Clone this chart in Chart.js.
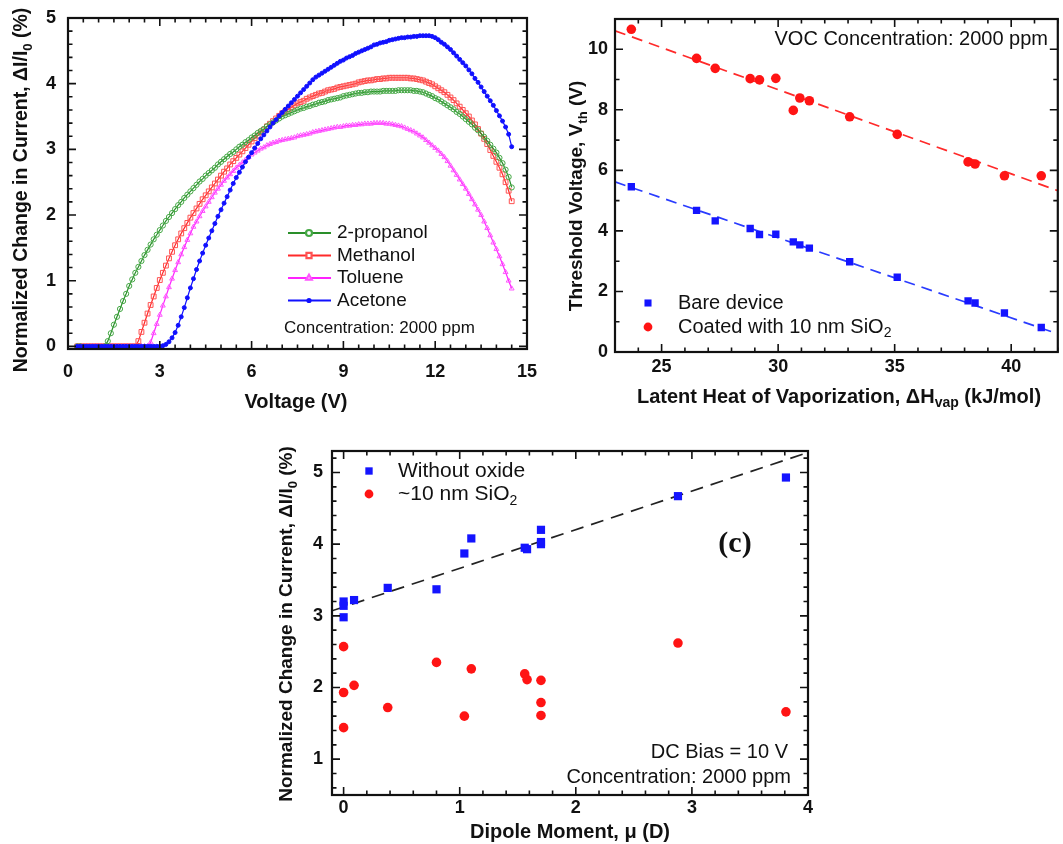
<!DOCTYPE html>
<html>
<head>
<meta charset="utf-8">
<script src="https://cdn.jsdelivr.net/npm/chart.js@4.4.1/dist/chart.umd.min.js"></script>
<style>
  html, body { margin: 0; padding: 0; background: #fff; }
  #page { position: relative; width: 1063px; height: 844px; overflow: hidden; }
  canvas { position: absolute; }
  #chart-iv { left: 0; top: 0; }
  #chart-vth { left: 540px; top: 0; }
  #chart-dipole { left: 270px; top: 425px; }
</style>
</head>
<body>
<div id="page">
  <canvas id="chart-iv" width="540" height="415"></canvas>
  <canvas id="chart-vth" width="523" height="420"></canvas>
  <canvas id="chart-dipole" width="545" height="419"></canvas>
</div>
<script>
/* ---------- (a) response vs. bias voltage ---------- */
const voltage = [
  0.3, 0.4, 0.5, 0.6, 0.7, 0.8, 0.9, 1.0, 1.1, 1.2,
  1.3, 1.4, 1.5, 1.6, 1.7, 1.8, 1.9, 2.0, 2.1, 2.2,
  2.3, 2.4, 2.5, 2.6, 2.7, 2.8, 2.9, 3.0, 3.1, 3.2,
  3.3, 3.4, 3.5, 3.6, 3.7, 3.8, 3.9, 4.0, 4.1, 4.2,
  4.3, 4.4, 4.5, 4.6, 4.7, 4.8, 4.9, 5.0, 5.1, 5.2,
  5.3, 5.4, 5.5, 5.6, 5.7, 5.8, 5.9, 6.0, 6.1, 6.2,
  6.3, 6.4, 6.5, 6.6, 6.7, 6.8, 6.9, 7.0, 7.1, 7.2,
  7.3, 7.4, 7.5, 7.6, 7.7, 7.8, 7.9, 8.0, 8.1, 8.2,
  8.3, 8.4, 8.5, 8.6, 8.7, 8.8, 8.9, 9.0, 9.1, 9.2,
  9.3, 9.4, 9.5, 9.6, 9.7, 9.8, 9.9, 10.0, 10.1, 10.2,
  10.3, 10.4, 10.5, 10.6, 10.7, 10.8, 10.9, 11.0, 11.1, 11.2,
  11.3, 11.4, 11.5, 11.6, 11.7, 11.8, 11.9, 12.0, 12.1, 12.2,
  12.3, 12.4, 12.5, 12.6, 12.7, 12.8, 12.9, 13.0, 13.1, 13.2,
  13.3, 13.4, 13.5, 13.6, 13.7, 13.8, 13.9, 14.0, 14.1, 14.2,
  14.3, 14.4, 14.5,
];
const propanol = [
  0, 0, -0.01, -0.01, -0.02, -0.02, -0.03, -0.02, -0.01, 0.0,
  0.08, 0.2, 0.33, 0.45, 0.57, 0.69, 0.8, 0.92, 1.02, 1.12,
  1.21, 1.3, 1.39, 1.47, 1.55, 1.63, 1.7, 1.77, 1.84, 1.91,
  1.97, 2.03, 2.09, 2.15, 2.2, 2.26, 2.31, 2.36, 2.41, 2.46,
  2.51, 2.55, 2.6, 2.64, 2.68, 2.72, 2.77, 2.81, 2.85, 2.89,
  2.93, 2.96, 3.0, 3.04, 3.07, 3.11, 3.14, 3.18, 3.21, 3.25,
  3.28, 3.31, 3.35, 3.38, 3.41, 3.44, 3.47, 3.5, 3.52, 3.54,
  3.56, 3.58, 3.6, 3.62, 3.63, 3.65, 3.66, 3.68, 3.69, 3.71,
  3.72, 3.73, 3.75, 3.76, 3.77, 3.78, 3.79, 3.81, 3.82, 3.83,
  3.84, 3.85, 3.86, 3.86, 3.87, 3.87, 3.88, 3.88, 3.88, 3.88,
  3.89, 3.89, 3.89, 3.89, 3.89, 3.9, 3.9, 3.9, 3.9, 3.9,
  3.89, 3.89, 3.88, 3.87, 3.85, 3.83, 3.81, 3.78, 3.76, 3.73,
  3.7, 3.67, 3.64, 3.61, 3.57, 3.54, 3.5, 3.46, 3.42, 3.38,
  3.33, 3.29, 3.24, 3.19, 3.13, 3.07, 3.01, 2.95, 2.87, 2.79,
  2.69, 2.58, 2.42,
];
const methanol = [
  0, 0, 0, 0, 0, 0, 0, 0, 0, 0,
  0, 0, 0, 0, 0, 0, 0, 0, 0, 0,
  0.08, 0.22, 0.36, 0.5, 0.63, 0.76, 0.89, 1.01, 1.12, 1.23,
  1.34, 1.44, 1.54, 1.63, 1.72, 1.8, 1.88, 1.96, 2.03, 2.1,
  2.17, 2.24, 2.3, 2.36, 2.42, 2.48, 2.54, 2.6, 2.66, 2.71,
  2.77, 2.82, 2.87, 2.92, 2.97, 3.02, 3.07, 3.12, 3.17, 3.21,
  3.26, 3.3, 3.35, 3.39, 3.43, 3.47, 3.51, 3.55, 3.58, 3.61,
  3.64, 3.67, 3.7, 3.72, 3.74, 3.77, 3.79, 3.81, 3.83, 3.85,
  3.86, 3.88, 3.9, 3.91, 3.92, 3.94, 3.95, 3.96, 3.97, 3.98,
  3.99, 4.0, 4.02, 4.03, 4.04, 4.05, 4.05, 4.06, 4.07, 4.07,
  4.08, 4.08, 4.09, 4.09, 4.09, 4.09, 4.09, 4.09, 4.09, 4.08,
  4.08, 4.07, 4.06, 4.05, 4.03, 4.01, 3.99, 3.96, 3.93, 3.9,
  3.87, 3.83, 3.79, 3.75, 3.7, 3.65, 3.6, 3.55, 3.5, 3.44,
  3.38, 3.31, 3.24, 3.16, 3.08, 2.99, 2.9, 2.81, 2.72, 2.62,
  2.5, 2.37, 2.21,
];
const toluene = [
  0, 0, 0, 0, 0, 0, 0, 0, 0, 0,
  0, 0, 0, 0, 0, 0, 0, 0, 0, 0,
  0, 0, 0, 0, 0.06, 0.2, 0.34, 0.48, 0.62, 0.76,
  0.9, 1.03, 1.16, 1.28, 1.4, 1.51, 1.62, 1.72, 1.82, 1.9,
  1.98, 2.06, 2.13, 2.2, 2.27, 2.34, 2.4, 2.46, 2.52, 2.57,
  2.62, 2.67, 2.72, 2.76, 2.8, 2.84, 2.88, 2.92, 2.95, 2.98,
  3.01, 3.03, 3.06, 3.08, 3.1, 3.11, 3.13, 3.14, 3.15, 3.16,
  3.17, 3.18, 3.2, 3.21, 3.22, 3.23, 3.24, 3.26, 3.27, 3.28,
  3.29, 3.3, 3.31, 3.32, 3.33, 3.34, 3.34, 3.35, 3.36, 3.36,
  3.37, 3.37, 3.38, 3.38, 3.39, 3.39, 3.39, 3.4, 3.4, 3.4,
  3.4, 3.39, 3.39, 3.38, 3.37, 3.36, 3.35, 3.33, 3.31, 3.29,
  3.27, 3.24, 3.21, 3.18, 3.14, 3.1, 3.06, 3.02, 2.98, 2.93,
  2.88, 2.82, 2.75, 2.68, 2.61, 2.54, 2.47, 2.4, 2.32, 2.24,
  2.16, 2.08, 2.0, 1.9, 1.8, 1.69, 1.58, 1.48, 1.37, 1.25,
  1.13, 1.0, 0.88,
];
const acetone = [
  0, 0, 0, 0, 0, 0, 0, 0, 0, 0,
  0, 0, 0, 0, 0, 0, 0, 0, 0, 0,
  0, 0, 0, 0, 0, 0, 0, 0, 0.01, 0.03,
  0.07, 0.13, 0.21, 0.32, 0.45, 0.59, 0.74, 0.89, 1.03, 1.17,
  1.3, 1.42, 1.54, 1.65, 1.76, 1.87, 1.98, 2.08, 2.18, 2.28,
  2.38, 2.48, 2.57, 2.65, 2.73, 2.81, 2.88, 2.95, 3.02, 3.09,
  3.16, 3.22, 3.28, 3.34, 3.4, 3.45, 3.51, 3.56, 3.61, 3.66,
  3.71, 3.76, 3.81, 3.86, 3.91, 3.96, 4.01, 4.06, 4.1, 4.13,
  4.16, 4.19, 4.22, 4.25, 4.28, 4.31, 4.34, 4.36, 4.39, 4.41,
  4.43, 4.46, 4.48, 4.5, 4.52, 4.54, 4.56, 4.59, 4.6, 4.62,
  4.63, 4.64, 4.66, 4.67, 4.68, 4.69, 4.7, 4.7, 4.71, 4.71,
  4.72, 4.72, 4.73, 4.73, 4.73, 4.73, 4.72, 4.7, 4.67, 4.63,
  4.6, 4.56, 4.52, 4.47, 4.42, 4.37, 4.32, 4.27, 4.21, 4.15,
  4.08, 4.02, 3.95, 3.88, 3.81, 3.74, 3.67, 3.59, 3.51, 3.43,
  3.34, 3.23, 3.04,
];
const voltTicks = [0, 3, 6, 9, 12, 15];
const respTicksA = [0, 1, 2, 3, 4, 5];

/* ---------- (b) threshold voltage vs. latent heat ---------- */
const latentHeat = [23.7, 26.5, 27.3, 28.8, 29.2, 29.9, 30.65, 30.93, 31.34, 33.07, 35.11, 38.15, 38.45, 39.71, 41.29];
const vthBare = [5.46, 4.68, 4.33, 4.08, 3.88, 3.89, 3.64, 3.54, 3.43, 2.98, 2.47, 1.69, 1.62, 1.29, 0.81];
const vthCoated = [10.66, 9.7, 9.37, 9.03, 8.99, 9.04, 7.98, 8.39, 8.3, 7.77, 7.19, 6.28, 6.21, 5.82, 5.82];
const fitHeat = [23, 42];
const fitVthBare = [5.62, 0.6];
const fitVthCoated = [10.61, 5.33];
const heatTicks = [25, 30, 35, 40];
const vthTicks = [0, 2, 4, 6, 8, 10];

/* ---------- (c) response vs. dipole moment ---------- */
const dipole = [0, 0, 0, 0.09, 0.38, 0.8, 1.04, 1.1, 1.56, 1.58, 1.7, 1.7, 1.7, 2.88, 3.81];
const respBare = [2.98, 3.2, 3.14, 3.22, 3.39, 3.37, 3.87, 4.08, 3.95, 3.93, 4.2, 4.03, 4.0, 4.67, 4.93];
const respOxide = [2.57, 1.93, 1.44, 2.03, 1.72, 2.35, 1.6, 2.26, 2.19, 2.11, 2.1, 1.79, 1.61, 2.62, 1.66];
const fitDipole = [-0.1, 4.0];
const fitResp = [3.07, 5.28];
const dipoleTicks = [0, 1, 2, 3, 4];
const respTicksC = [1, 2, 3, 4, 5];

const FONT = '"Liberation Sans", Arial, sans-serif';
const SERIF = '"Liberation Serif", "Times New Roman", serif';
Chart.defaults.font.family = FONT;

const BLUE = '#1414ff';
const RED = '#ff1414';

const pts = (xs, ys) => xs.map((x, i) => ({ x, y: ys[i] }));

// text made of runs, some of them subscripts
function drawRich(ctx, parts, x, y, o) {
  const size = o.size;
  const weight = o.weight || 'normal';
  const family = o.family || FONT;
  const subSize = Math.round(size * 0.68);
  const fontOf = (s) => `${weight} ${s}px ${family}`;
  let total = 0;
  const widths = parts.map(([t, isSub]) => {
    ctx.font = fontOf(isSub ? subSize : size);
    const w = ctx.measureText(t).width;
    total += w;
    return w;
  });
  let cx = o.align === 'right' ? x - total : o.align === 'left' ? x : x - total / 2;
  ctx.fillStyle = o.color || '#111';
  ctx.textBaseline = 'middle';
  ctx.textAlign = 'left';
  parts.forEach(([t, isSub], i) => {
    ctx.font = fontOf(isSub ? subSize : size);
    ctx.fillText(t, cx, isSub ? y + size * 0.32 : y);
    cx += widths[i];
  });
}

// box frame with inward major/minor ticks on all four sides
const framePlugin = {
  id: 'frame',
  afterDatasetsDraw(chart, args, o) {
    const { ctx, chartArea: a, scales } = chart;
    const minor = (s, step) => {
      const out = [];
      const start = Math.ceil((s.min - 1e-9) / step) * step;
      for (let v = start; v <= s.max + 1e-9; v += step) out.push(v);
      return out;
    };
    const marks = (s, step) => [
      ...minor(s, step).map((v) => [v, o.minorLen]),
      ...s.ticks.map((t) => [t.value, o.majorLen]),
    ];
    ctx.save();
    ctx.strokeStyle = '#111';
    ctx.lineWidth = 1.6;
    ctx.beginPath();
    marks(scales.x, o.xMinor).forEach(([v, len]) => {
      const px = scales.x.getPixelForValue(v);
      ctx.moveTo(px, a.bottom); ctx.lineTo(px, a.bottom - len);
      ctx.moveTo(px, a.top); ctx.lineTo(px, a.top + len);
    });
    marks(scales.y, o.yMinor).forEach(([v, len]) => {
      const py = scales.y.getPixelForValue(v);
      ctx.moveTo(a.left, py); ctx.lineTo(a.left + len, py);
      ctx.moveTo(a.right, py); ctx.lineTo(a.right - len, py);
    });
    ctx.stroke();
    ctx.lineWidth = 2.2;
    ctx.strokeRect(a.left, a.top, a.right - a.left, a.bottom - a.top);
    ctx.restore();
  },
};

// axis titles and free text
const notesPlugin = {
  id: 'notes',
  afterDraw(chart, args, o) {
    const ctx = chart.ctx;
    (o.items || []).forEach((n) => {
      ctx.save();
      if (n.rotate) {
        ctx.translate(n.x, n.y);
        ctx.rotate(-Math.PI / 2);
        drawRich(ctx, n.parts, 0, 0, n);
      } else {
        drawRich(ctx, n.parts, n.x, n.y, n);
      }
      ctx.restore();
    });
  },
};

// in-plot legend; marker shape and size follow the dataset
const keyPlugin = {
  id: 'key',
  afterDraw(chart, args, o) {
    if (!o.items) return;
    const ctx = chart.ctx;
    o.items.forEach((it, i) => {
      const ds = chart.data.datasets[it.dataset];
      const y = o.y + i * o.gap;
      ctx.save();
      if (o.line) {
        ctx.strokeStyle = it.line;
        ctx.lineWidth = 2.2;
        ctx.beginPath();
        ctx.moveTo(o.line[0], y);
        ctx.lineTo(o.line[1], y);
        ctx.stroke();
      }
      ctx.strokeStyle = it.stroke;
      ctx.fillStyle = it.fill;
      Chart.helpers.drawPoint(ctx, {
        pointStyle: ds.pointStyle,
        radius: it.radius || ds.pointRadius,
        borderWidth: it.hollow ? 1 : 0,
        rotation: 0,
      }, o.markX, y);
      ctx.restore();
      drawRich(ctx, it.parts, o.textX, y, { size: o.size, align: 'left' });
    });
  },
};

// fixed axis box size, no extra room for edge labels
const fixBox = (w, h) => (s) => {
  if (w) s.width = w;
  if (h) s.height = h;
  s.paddingTop = s.paddingBottom = s.paddingLeft = s.paddingRight = 0;
};

function axis(min, max, ticks, pad, fit) {
  return {
    type: 'linear',
    min,
    max,
    grid: { display: false, drawTicks: false },
    border: { display: false },
    afterBuildTicks: (s) => { s.ticks = ticks.map((v) => ({ value: v })); },
    afterFit: fit,
    ticks: {
      color: '#111',
      padding: pad,
      callback: (v) => String(v),
      font: { family: FONT, size: 18, weight: 'bold' },
    },
  };
}

function options(padding, x, y, plugins) {
  return {
    responsive: false,
    animation: false,
    devicePixelRatio: 1,
    layout: { padding },
    plugins: Object.assign({ legend: { display: false }, tooltip: { enabled: false } }, plugins),
    scales: { x, y },
  };
}

const plugins = [framePlugin, notesPlugin, keyPlugin];
const HOLLOW = 'rgba(255,255,255,0)';

function curve(label, data, line, mark, style, radius, fill, order) {
  return {
    label,
    data: pts(voltage, data),
    showLine: true,
    borderColor: line,
    borderWidth: 1.2,
    pointStyle: style,
    pointRadius: radius,
    pointBorderColor: mark,
    pointBackgroundColor: fill,
    pointBorderWidth: 1,
    order,
  };
}

/* (a) */
new Chart(document.getElementById('chart-iv'), {
  type: 'scatter',
  data: {
    datasets: [
      curve('2-propanol', propanol, '#2a8f2a', '#45a845', 'circle', 2.6, HOLLOW, 1),
      curve('Methanol', methanol, '#ff2a2a', '#ff5252', 'rect', 3.4, HOLLOW, 1),
      curve('Toluene', toluene, '#ff22ff', '#ff55ff', 'triangle', 2.8, HOLLOW, 1),
      curve('Acetone', acetone, '#1010ff', '#1010ff', 'circle', 2.0, '#1010ff', 0),
    ],
  },
  options: options(
    { left: 0, top: 18, right: 13, bottom: 0 },
    axis(0, 15, voltTicks, 12, fixBox(0, 66)),
    axis(-0.04, 5, respTicksA, 12, fixBox(68, 0)),
    {
      frame: { xMinor: 0.5, yMinor: 0.2, majorLen: 8, minorLen: 4.5 },
      key: {
        markX: 309, line: [288, 331], textX: 337, y: 233, gap: 22.5, size: 19,
        items: [
          { dataset: 0, parts: [['2-propanol']], line: '#2a8f2a', stroke: '#45a845', fill: '#fff', hollow: true, radius: 3 },
          { dataset: 1, parts: [['Methanol']], line: '#ff2a2a', stroke: '#ff5252', fill: '#fff', hollow: true, radius: 3.6 },
          { dataset: 2, parts: [['Toluene']], line: '#ff22ff', stroke: '#ff55ff', fill: '#fff', hollow: true, radius: 3.2 },
          { dataset: 3, parts: [['Acetone']], line: '#1010ff', stroke: '#1010ff', fill: '#1010ff', radius: 2.6 },
        ],
      },
      notes: {
        items: [
          { parts: [['Concentration: 2000 ppm']], x: 284, y: 328, size: 17, align: 'left' },
          { parts: [['Voltage (V)']], x: 296, y: 402, size: 20, weight: 'bold' },
          {
            parts: [['Normalized Change in Current, \u0394I/I'], ['0', true], [' (%)']],
            x: 22, y: 190, size: 19.5, weight: 'bold', rotate: true,
          },
        ],
      },
    }
  ),
  plugins,
});

/* (b) */
new Chart(document.getElementById('chart-vth'), {
  type: 'scatter',
  data: {
    datasets: [
      {
        label: 'Bare device',
        data: pts(latentHeat, vthBare),
        pointStyle: 'rect', pointRadius: 5.2, pointBorderWidth: 0,
        borderColor: BLUE, pointBackgroundColor: BLUE,
        order: 0,
      },
      {
        label: 'Coated with 10 nm SiO2',
        data: pts(latentHeat, vthCoated),
        pointStyle: 'circle', pointRadius: 4.8, pointBorderWidth: 0,
        borderColor: RED, pointBackgroundColor: RED,
        order: 0,
      },
      {
        label: 'Bare fit',
        data: pts(fitHeat, fitVthBare),
        showLine: true, pointRadius: 0, borderColor: '#2a3cff', borderWidth: 1.7, borderDash: [11, 7],
        order: 2,
      },
      {
        label: 'Coated fit',
        data: pts(fitHeat, fitVthCoated),
        showLine: true, pointRadius: 0, borderColor: '#ff2a2a', borderWidth: 1.7, borderDash: [11, 7],
        order: 2,
      },
    ],
  },
  options: options(
    { left: 0, top: 19, right: 1, bottom: 0 },
    axis(23, 42, heatTicks, 4, fixBox(0, 68)),
    axis(0, 11, vthTicks, 7, fixBox(75, 0)),
    {
      frame: { xMinor: 1, yMinor: 1, majorLen: 8, minorLen: 4.5 },
      key: {
        markX: 108, textX: 138, y: 303, gap: 24, size: 20,
        items: [
          { dataset: 0, parts: [['Bare device']], stroke: BLUE, fill: BLUE, radius: 5 },
          { dataset: 1, parts: [['Coated with 10 nm SiO'], ['2', true]], stroke: RED, fill: RED, radius: 4.4 },
        ],
      },
      notes: {
        items: [
          { parts: [['VOC Concentration: 2000 ppm']], x: 508, y: 39, size: 20, align: 'right' },
          {
            parts: [['Latent Heat of Vaporization, \u0394H'], ['vap', true], [' (kJ/mol)']],
            x: 299, y: 397, size: 20, weight: 'bold',
          },
          {
            parts: [['Threshold Voltage, V'], ['th', true], [' (V)']],
            x: 37, y: 196, size: 19, weight: 'bold', rotate: true,
          },
        ],
      },
    }
  ),
  plugins,
});

/* (c) */
new Chart(document.getElementById('chart-dipole'), {
  type: 'scatter',
  data: {
    datasets: [
      {
        label: 'Without oxide',
        data: pts(dipole, respBare),
        pointStyle: 'rect', pointRadius: 5.8, pointBorderWidth: 0,
        borderColor: BLUE, pointBackgroundColor: BLUE,
        order: 0,
      },
      {
        label: '~10 nm SiO2',
        data: pts(dipole, respOxide),
        pointStyle: 'circle', pointRadius: 4.8, pointBorderWidth: 0,
        borderColor: RED, pointBackgroundColor: RED,
        order: 0,
      },
      {
        label: 'Linear fit',
        data: pts(fitDipole, fitResp),
        showLine: true, pointRadius: 0, borderColor: '#222', borderWidth: 1.7, borderDash: [13, 8],
        order: 2,
      },
    ],
  },
  options: options(
    { left: 0, top: 26, right: 7, bottom: 0 },
    axis(-0.1, 4, dipoleTicks, 2, fixBox(0, 49)),
    axis(0.5, 5.3, respTicksC, 9, fixBox(62, 0)),
    {
      frame: { xMinor: 0.2, yMinor: 0.2, majorLen: 8, minorLen: 4.5 },
      key: {
        markX: 99, textX: 128, y: 46, gap: 23, size: 21,
        items: [
          { dataset: 0, parts: [['Without oxide']], stroke: BLUE, fill: BLUE, radius: 5.2 },
          { dataset: 1, parts: [['~10 nm SiO'], ['2', true]], stroke: RED, fill: RED, radius: 4.4 },
        ],
      },
      notes: {
        items: [
          { parts: [['(c)']], x: 465, y: 119, size: 30, weight: 'bold', family: SERIF },
          { parts: [['DC Bias = 10 V']], x: 518, y: 327, size: 20, align: 'right' },
          { parts: [['Concentration: 2000 ppm']], x: 521, y: 352, size: 20, align: 'right' },
          { parts: [['Dipole Moment, \u03bc (D)']], x: 300, y: 407, size: 20, weight: 'bold' },
          {
            parts: [['Normalized Change in Current, \u0394I/I'], ['0', true], [' (%)']],
            x: 17, y: 199, size: 19, weight: 'bold', rotate: true,
          },
        ],
      },
    }
  ),
  plugins,
});
</script>
</body>
</html>
